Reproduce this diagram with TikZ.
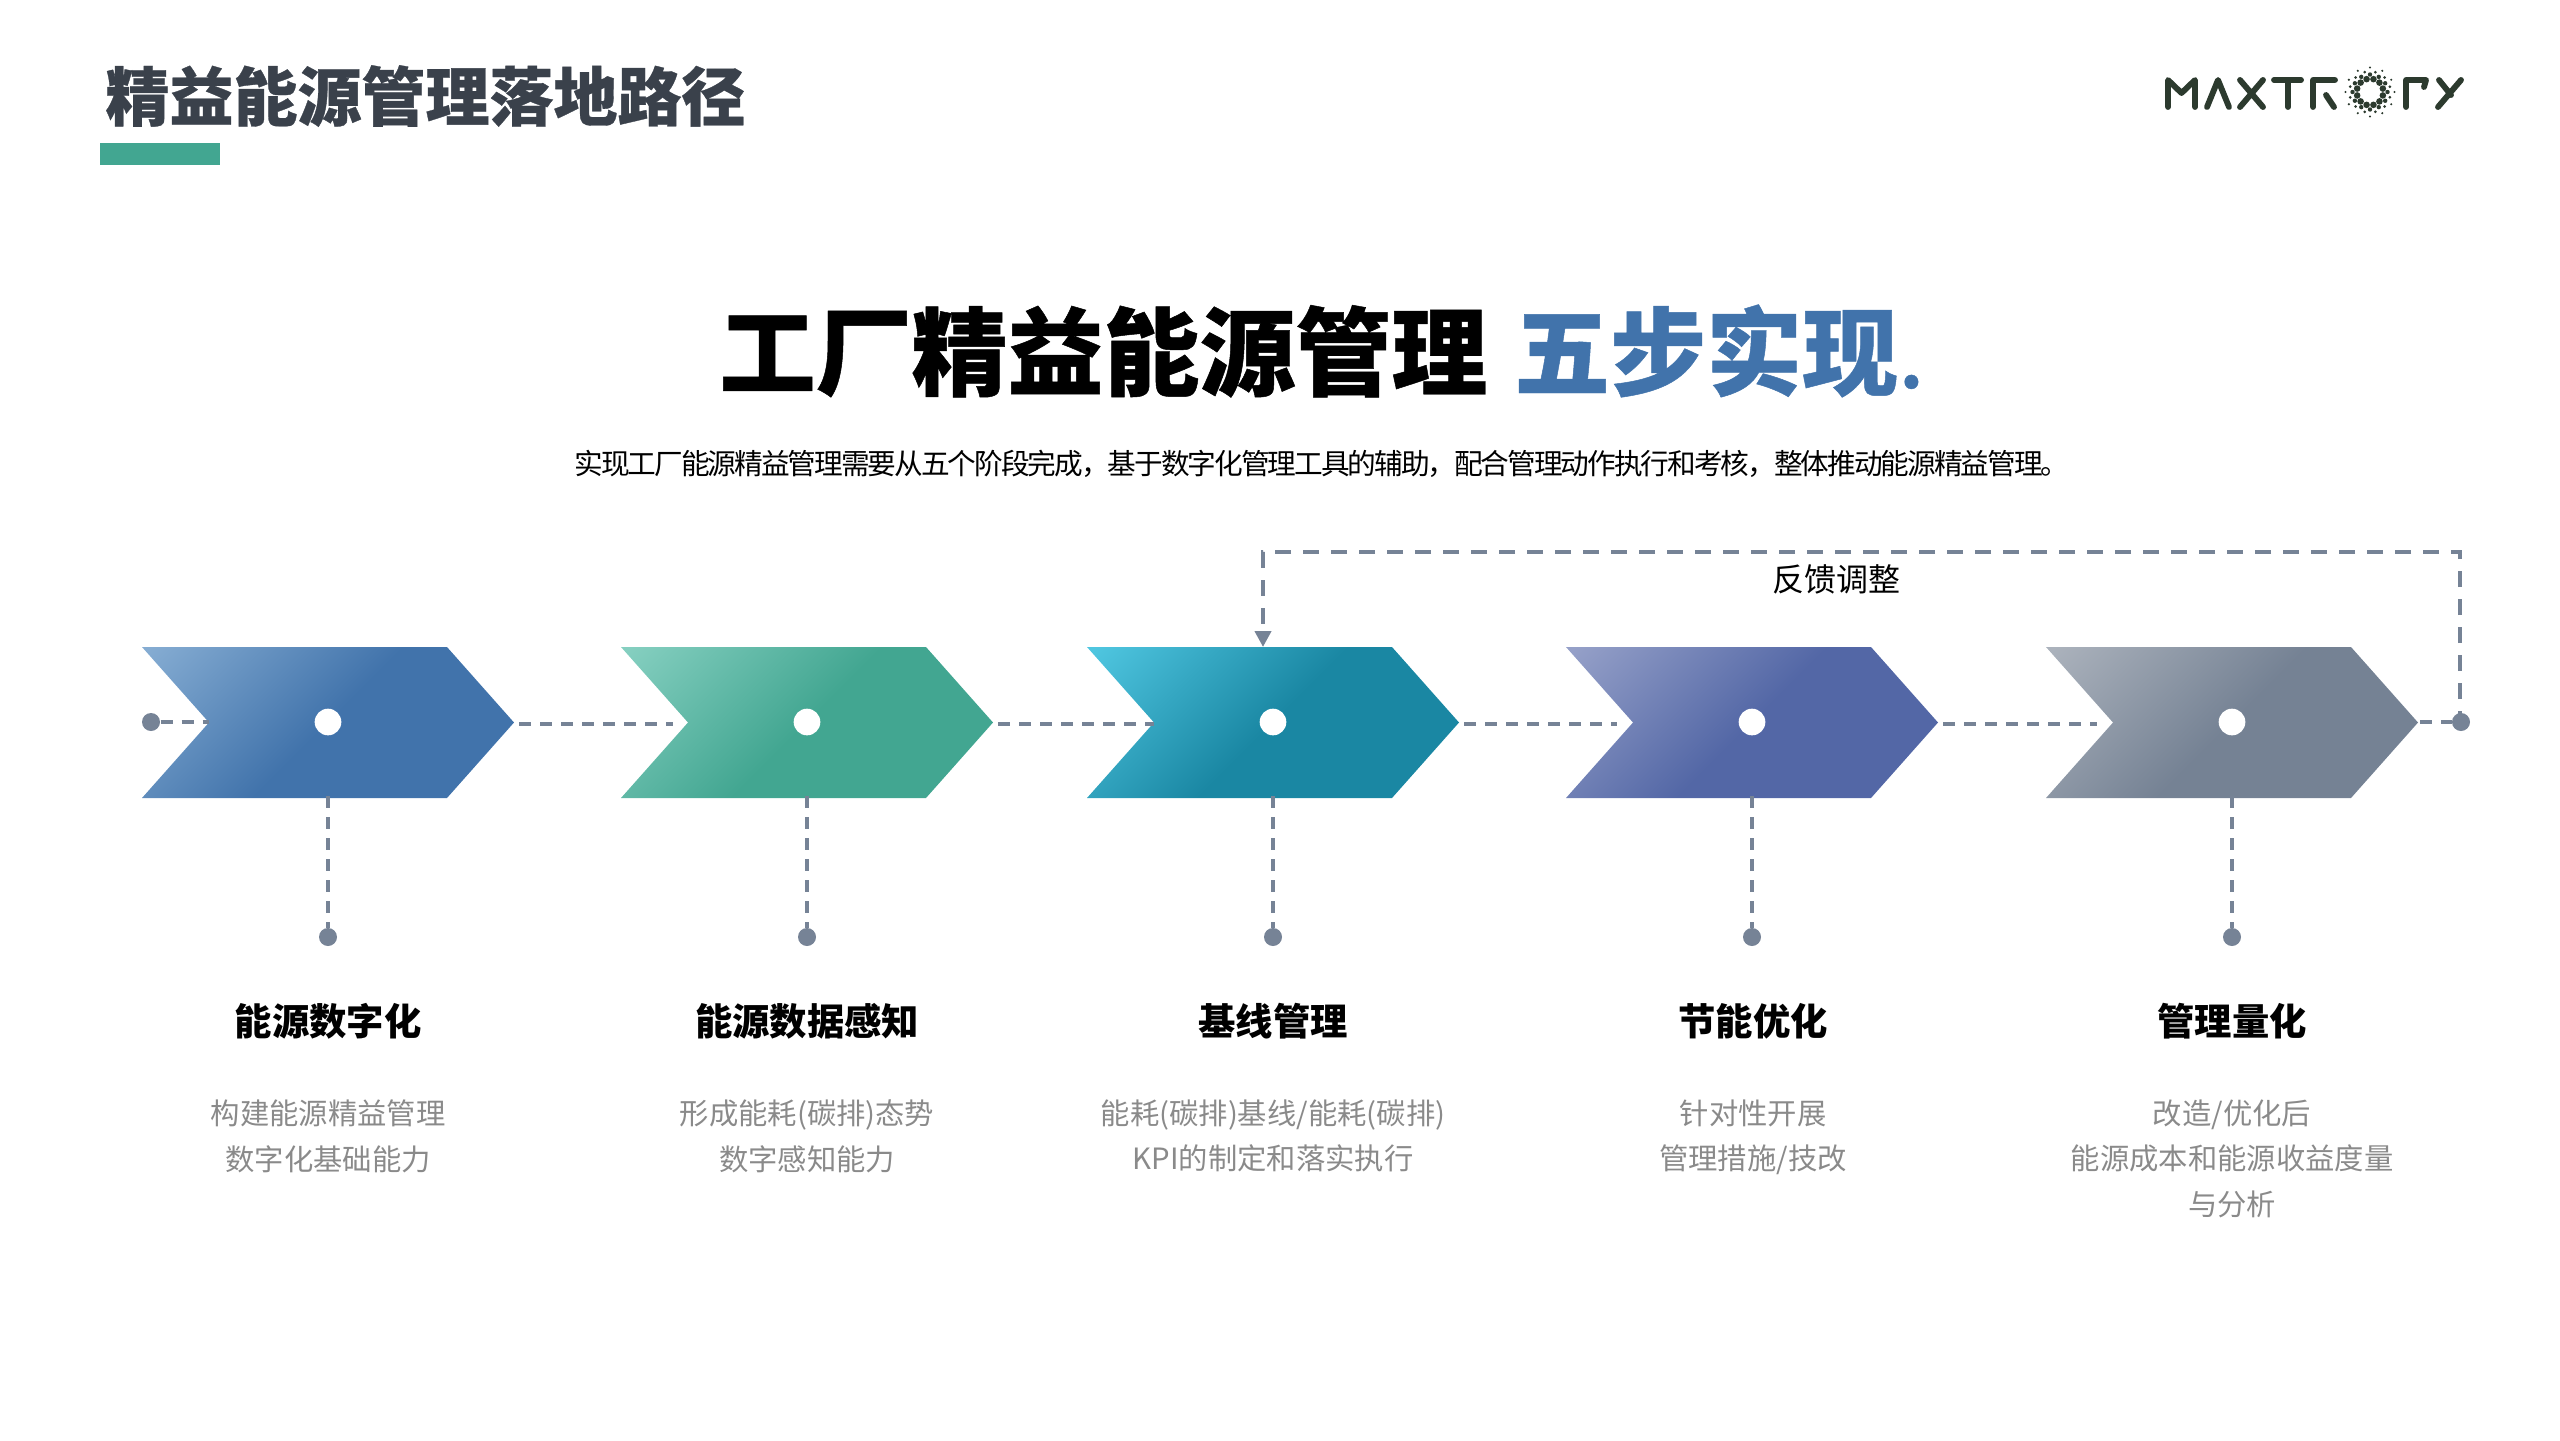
\documentclass[tikz,border=0pt]{standalone}
\usepackage{fontspec}
\usetikzlibrary{arrows.meta}
\setmainfont{Noto Sans CJK SC}
\newfontfamily\cjkheavy[FakeBold=0.5]{Noto Sans CJK SC Black}

\definecolor{inkgray}{HTML}{3A414B}
\definecolor{bargreen}{HTML}{42A691}
\definecolor{linegray}{HTML}{768396}
\definecolor{textgray}{HTML}{8A8A8A}
\definecolor{logogreen}{HTML}{2C3A2E}
\definecolor{blueA}{HTML}{85ACD2}
\definecolor{blueB}{HTML}{4173AB}
\definecolor{greenA}{HTML}{85CFC0}
\definecolor{greenB}{HTML}{42A691}
\definecolor{cyanA}{HTML}{4FC6E0}
\definecolor{cyanB}{HTML}{1A87A3}
\definecolor{violetA}{HTML}{95A0C8}
\definecolor{violetB}{HTML}{5367A6}
\definecolor{slateA}{HTML}{ABB2BC}
\definecolor{slateB}{HTML}{758294}

\pgfdeclarehorizontalshading{shdblue}{100bp}{color(0bp)=(blueA); color(32bp)=(blueA); color(50bp)=(blueB); color(100bp)=(blueB)}
\pgfdeclarehorizontalshading{shdgreen}{100bp}{color(0bp)=(greenA); color(32bp)=(greenA); color(50bp)=(greenB); color(100bp)=(greenB)}
\pgfdeclarehorizontalshading{shdcyan}{100bp}{color(0bp)=(cyanA); color(32bp)=(cyanA); color(50bp)=(cyanB); color(100bp)=(cyanB)}
\pgfdeclarehorizontalshading{shdviolet}{100bp}{color(0bp)=(violetA); color(32bp)=(violetA); color(50bp)=(violetB); color(100bp)=(violetB)}
\pgfdeclarehorizontalshading{shdslate}{100bp}{color(0bp)=(slateA); color(32bp)=(slateA); color(50bp)=(slateB); color(100bp)=(slateB)}

\tikzset{
  every picture/.style={line width=0.75pt},
  linkline/.style={draw=linegray,line width=2.5pt,dash pattern=on 9pt off 6.75pt},
  feedline/.style={draw=linegray,line width=3.2pt,dash pattern=on 12pt off 9pt},
  enddot/.style={circle,fill=linegray,inner sep=0pt,minimum size=13.5pt},
  holedot/.style={circle,fill=white,inner sep=0pt,minimum size=20pt},
  steptitle/.style={inner sep=0pt,font=\fontsize{28}{34}\selectfont\bfseries},
  stepnote/.style={anchor=north,inner sep=0pt,align=center,text=textgray,font=\fontsize{22}{34.3}\selectfont},
  logostroke/.style={draw=logogreen,line width=4.4pt,line cap=round,line join=round}
}

\begin{document}
\begin{tikzpicture}[x=0.75pt,y=0.75pt,yscale=-1,xscale=1]
\useasboundingbox (0,0) rectangle (2560,1440);

% Page heading
\node (pagetitle) [anchor=west,inner sep=0pt,text=inkgray,font=\fontsize{48}{56}\cjkheavy] at (105,96) {精益能源管理落地路径};
\fill [bargreen] (100,143) rectangle (220,165);

% Headline
\node (headline) [anchor=west,inner sep=0pt,font=\fontsize{72}{80}\cjkheavy] at (719,351) {工厂精益能源管理\hspace{20pt}\textcolor{blueB}{五步实现{\fontsize{48}{56}\selectfont\hspace{1.5pt}.}}};
\node (subline) [inner sep=0pt,font=\fontsize{21.5}{26}\selectfont\addfontfeature{LetterSpace=-7}] at (1322,464) {实现工厂能源精益管理需要从五个阶段完成，基于数字化管理工具的辅助，配合管理动作执行和考核，整体推动能源精益管理。};

% Chevrons
\foreach \i/\cx/\back/\shd in {1/328/119/shdblue,2/807/134/shdgreen,3/1273/119/shdcyan,4/1752/135/shdviolet,5/2232/135/shdslate}{
  \begin{scope}
    \clip (\cx-186,647) -- (\cx+119,647) -- (\cx+186,722.5) -- (\cx+119,798) -- (\cx-186,798) -- (\cx-119,722.5) -- cycle;
    \path [shading=\shd,shading angle=-45] (\cx-250,472.5) rectangle (\cx+250,972.5);
  \end{scope}
  \node (hole\i) [holedot] at (\cx,722) {};
  \node (foot\i) [enddot] at (\cx,937) {};
  \coordinate (top\i) at (\cx,796);
  \coordinate (tip\i) at (\cx+191,724);
  \coordinate (notch\i) at (\cx-\back,724);
}

% Start and end dots
\node (startdot) [enddot] at (151,722) {};
\node (enddot) [enddot] at (2461,722) {};
\coordinate (notchstart) at (209,722);
\coordinate (tipend) at (2420,722);
\coordinate (cornerright) at (2460,552);
\coordinate (cornerleft) at (1263,552);
\coordinate (feedin) at (1263,647);

% Links between chevrons
\draw [linkline] (startdot) -- (notchstart);
\draw [linkline] (tip1) -- (notch2);
\draw [linkline] (tip2) -- (notch3);
\draw [linkline] (tip3) -- (notch4);
\draw [linkline] (tip4) -- (notch5);
\draw [linkline] (tipend) -- (enddot);

% Stems below chevrons
\draw [linkline] (top1) -- (foot1);
\draw [linkline] (top2) -- (foot2);
\draw [linkline] (top3) -- (foot3);
\draw [linkline] (top4) -- (foot4);
\draw [linkline] (top5) -- (foot5);

% Feedback loop
\draw [feedline,dash phase=3.75pt,-{Triangle[length=12pt,width=12pt,sep=0pt]}] (2460,722) -- (cornerright) -- (cornerleft) -- (feedin);
\node (feedlabel) [inner sep=0pt,font=\fontsize{24}{30}\selectfont] at (1836,579) {反馈调整};

% Step texts
\node (title1) [steptitle] at (328,1021) {能源数字化};
\node (title2) [steptitle] at (807,1021) {能源数据感知};
\node (title3) [steptitle] at (1273,1021) {基线管理};
\node (title4) [steptitle] at (1753,1021) {节能优化};
\node (title5) [steptitle] at (2232,1021) {管理量化};
\node (note1) [stepnote] at (328,1099) {构建能源精益管理\\数字化基础能力};
\node (note2) [stepnote] at (807,1099) {形成能耗(碳排)态势\\数字感知能力};
\node (note3) [stepnote] at (1273,1099) {能耗(碳排)基线/能耗(碳排)\\KPI的制定和落实执行};
\node (note4) [stepnote] at (1753,1099) {针对性开展\\管理措施/技改};
\node (note5) [stepnote] at (2232,1099) {改造/优化后\\能源成本和能源收益度量\\与分析};

% Logo
\draw [logostroke] (2168,107) -- (2168,80) -- (2181.5,93) -- (2195,80) -- (2195,107);
\draw [logostroke] (2207,107) -- (2218,80) -- (2229,107);
\draw [logostroke] (2240,107) -- (2263,80) (2240,80) -- (2263,107);
\draw [logostroke] (2274,80) -- (2301,80) (2288,80) -- (2288,107);
\draw [logostroke] (2313,107) -- (2313,80) -- (2335,80) (2326,95) -- (2334,107);
\draw [logostroke] (2406,107) -- (2406,80) -- (2426,80) -- (2424,87);
\draw [logostroke] (2439,80) -- (2451,95) (2461,80) -- (2438,107);
\foreach \a in {0,30,...,330}{
  \fill [logogreen] (2370,92) ++(\a+15:13.3) circle (3.3);
  \fill [logogreen] (2370,92) ++(\a:17.5) circle (2.2);
  \fill [logogreen] (2370,92) ++(\a+15:20.5) circle (1.5);
  \fill [logogreen] (2370,92) ++(\a:24.5) circle (1.2);
}
\end{tikzpicture}
\end{document}
